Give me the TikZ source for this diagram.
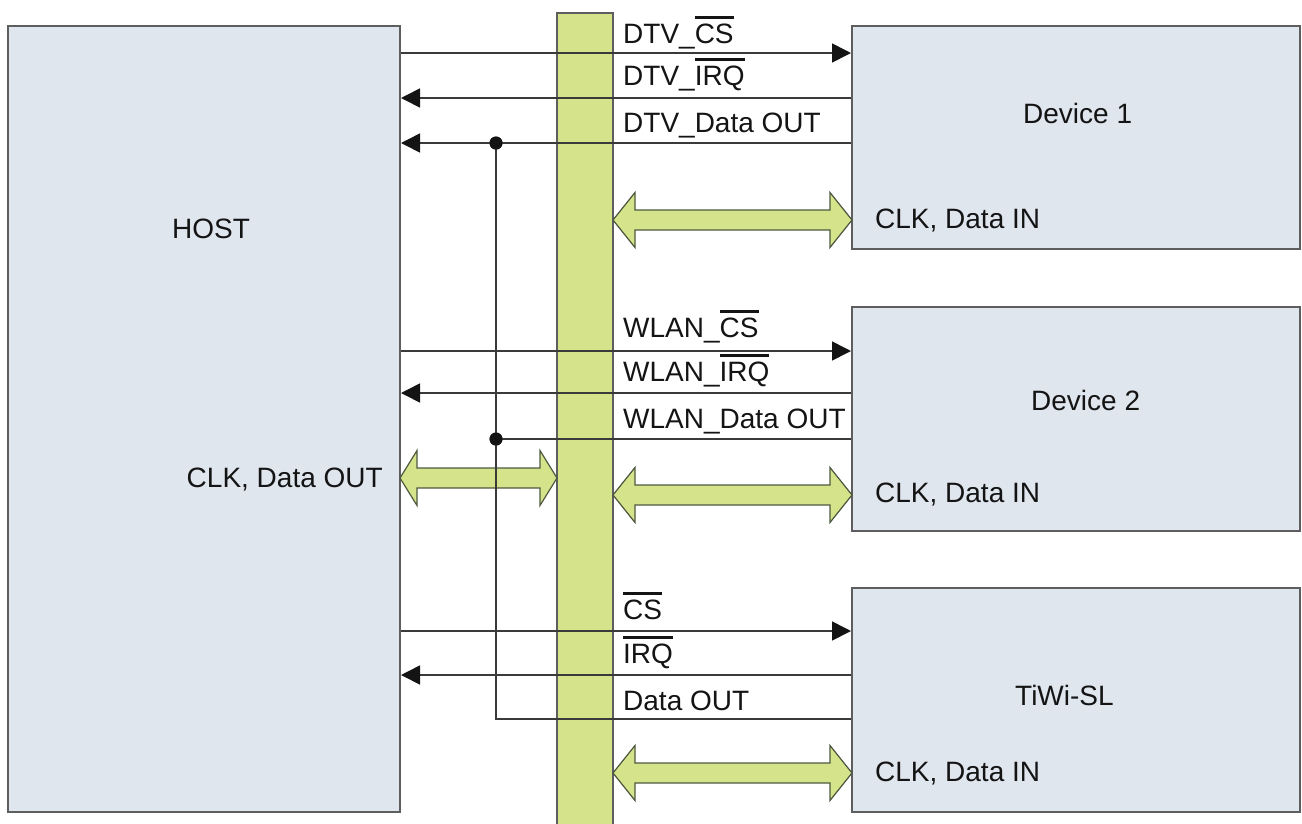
\documentclass[tikz,border=0pt]{standalone}
\usepackage{fontspec}
\setmainfont{Liberation Sans}
\usetikzlibrary{arrows.meta}
\definecolor{boxfill}{HTML}{DFE6EE}
\definecolor{boxline}{HTML}{5E5E5E}
\definecolor{busfill}{HTML}{D5E38A}
\definecolor{wirecol}{HTML}{3A3A3A}
\definecolor{arrline}{HTML}{4E5A40}
\newcommand\myovl[1]{\leavevmode\vbox{\hrule height 2.8pt\kern 4.5pt\hbox{#1}}}
% x1 x2 y headlength halfhead
\newcommand\blockarr[5]{%
  \draw[blockarrow] (#1,#3) -- (#1+#4,#3-#5) -- (#1+#4,#3-10) -- (#2-#4,#3-10)
    -- (#2-#4,#3-#5) -- (#2,#3) -- (#2-#4,#3+#5) -- (#2-#4,#3+10)
    -- (#1+#4,#3+10) -- (#1+#4,#3+#5) -- cycle;}
\tikzset{
  unitbox/.style={draw=boxline, line width=2pt, fill=boxfill, inner sep=0pt},
  busbar/.style={draw=boxline, line width=1.6pt, fill=busfill},
  blockarrow/.style={draw=arrline, line width=1.2pt, fill=busfill, line join=miter},
  wire/.style={draw=wirecol, line width=1.6pt},
  towire/.style={wire, -{Triangle[length=19pt,width=19pt,color=black!92,fill=black!92]}},
  lbl/.style={anchor=base west, inner sep=0pt, font=\fontsize{28}{34}\selectfont, text=black!92},
  dotmark/.style={circle, fill=black!92, inner sep=0pt, minimum size=13pt}
}
\begin{document}
\begin{tikzpicture}[x=1pt, y=-1pt]
\useasboundingbox (0,0) rectangle (1302,823);
% boxes
\node[unitbox, minimum width=392pt, minimum height=786pt] (host) at (204,419) {};
\node[unitbox, minimum width=448pt, minimum height=223pt] (dev1) at (1076,137.5) {};
\node[unitbox, minimum width=448pt, minimum height=224pt] (dev2) at (1076,419) {};
\node[unitbox, minimum width=448pt, minimum height=224pt] (tiwi) at (1076,700) {};
% bus
\node[busbar, minimum width=56pt, minimum height=816pt, inner sep=0pt] (bus) at (585,421) {};
% block arrows
\blockarr{400}{557}{478}{17}{27.5}
\blockarr{613}{852}{220}{22}{27.5}
\blockarr{613}{852}{495}{22}{27.5}
\blockarr{613}{852}{773}{22}{27.5}
% junction dots
\node[dotmark] (j1) at (496,143) {};
\node[dotmark] (j2) at (496,439) {};
\coordinate (j3) at (496,719);
% Device 1 wires
\draw[towire] (host.east |- 0,53) -- (dev1.west |- 0,53);
\draw[towire] (dev1.west |- 0,98) -- (host.east |- 0,98);
\draw[towire] (dev1.west |- 0,143) -- (host.east |- 0,143);
% Device 2 wires
\draw[towire] (host.east |- 0,351) -- (dev2.west |- 0,351);
\draw[towire] (dev2.west |- 0,393) -- (host.east |- 0,393);
\draw[wire] (dev2.west |- 0,439) -- (j2.center);
% TiWi wires
\draw[towire] (host.east |- 0,631) -- (tiwi.west |- 0,631);
\draw[towire] (tiwi.west |- 0,675) -- (host.east |- 0,675);
\draw[wire] (tiwi.west |- 0,719) -- (j3) -- (j1.center);
\node[dotmark] at (j1) {};
\node[dotmark] at (j2) {};
% labels
\node[lbl] (l1) at (623,43) {DTV\_\myovl{CS}};
\node[lbl] (l2) at (623,85) {DTV\_\myovl{IRQ}};
\node[lbl] (l3) at (623,132) {DTV\_Data OUT};
\node[lbl] (l4) at (623,337) {WLAN\_\myovl{CS}};
\node[lbl] (l5) at (623,381) {WLAN\_\myovl{IRQ}};
\node[lbl] (l6) at (623,428) {WLAN\_Data OUT};
\node[lbl] (l7) at (623,619) {\myovl{CS}};
\node[lbl] (l8) at (623,663) {\myovl{IRQ}};
\node[lbl] (l9) at (623,710) {Data OUT};
\node[lbl] (hl) at (172,238) {HOST};
\node[lbl, anchor=base east] (hc) at (383,487) {CLK, Data OUT};
\node[lbl] (d1) at (1023,123) {Device 1};
\node[lbl] (d2) at (1031,410) {Device 2};
\node[lbl] (d3) at (1015,705) {TiWi-SL};
\node[lbl] (c1) at (875,228) {CLK, Data IN};
\node[lbl] (c2) at (875,502) {CLK, Data IN};
\node[lbl] (c3) at (875,781) {CLK, Data IN};
\end{tikzpicture}
\end{document}
